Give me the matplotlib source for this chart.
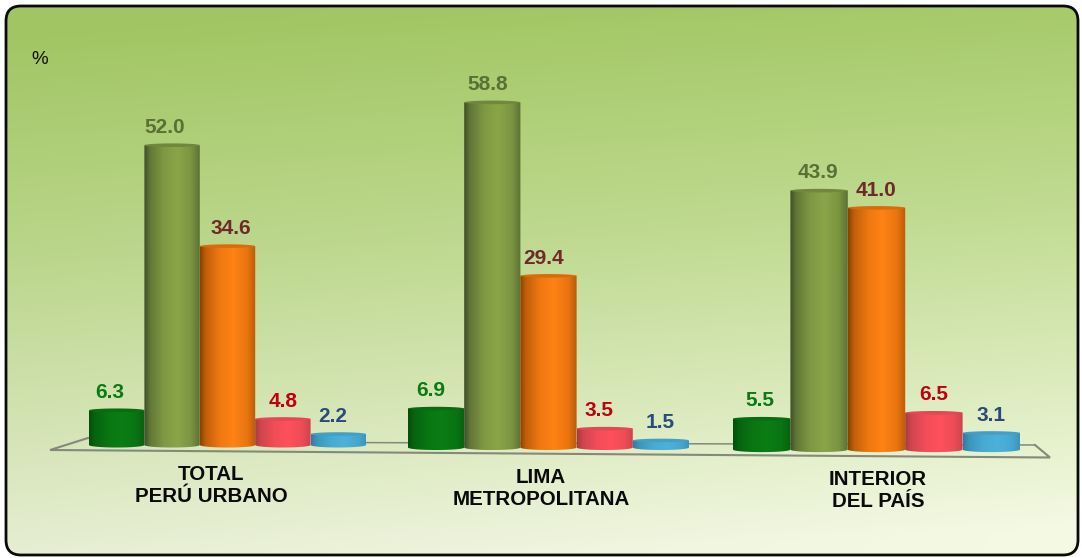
import numpy as np
import matplotlib
matplotlib.use('Agg')
import matplotlib.pyplot as plt
from matplotlib.colors import to_rgb
from matplotlib.patches import FancyBboxPatch, PathPatch
from matplotlib.path import Path

plt.rcParams['font.family'] = ['Liberation Sans', 'DejaVu Sans']

categorias = ['TOTAL\nPERÚ URBANO', 'LIMA\nMETROPOLITANA', 'INTERIOR\nDEL PAÍS']
serie_1 = [6.3, 6.9, 5.5]
serie_2 = [52.0, 58.8, 43.9]
serie_3 = [34.6, 29.4, 41.0]
serie_4 = [4.8, 3.5, 6.5]
serie_5 = [2.2, 1.5, 3.1]
series = [serie_1, serie_2, serie_3, serie_4, serie_5]

# oscuro, claro, color de etiqueta
colores = [('#03500c', '#0a7d14', '#0a7a14'),
           ('#3f5028', '#8aa548', '#5a7034'),
           ('#8f4200', '#ff8214', '#6e2a2a'),
           ('#a83c44', '#ff505c', '#c00010'),
           ('#2f7ea0', '#4cb2da', '#2a4a7c')]

W, H = 1082, 558
# cada grupo tiene su propia escala por la perspectiva del original
escalas_px = [5.80, 5.90, 5.94]
bases_px = [445.0, 447.5, 449.6]
izq_px = [89, 408, 733]
ancho_px = [55.4, 56.2, 57.4]
# ajuste horizontal de las etiquetas respecto al centro de cada barra
dx_etiquetas = [[-7, -7, 3, 0, -6], [-5, -5, -5, -6, -1], [-2, -1, 0, 0, 0]]
RY = 1.8

fig = plt.figure(figsize=(W / 100, H / 100), dpi=100)
fondo = fig.add_axes([0, 0, 1, 1])
fondo.set_axis_off()

# degradado del fondo, mas oscuro arriba a la izquierda
yy, xx = np.mgrid[0:1:80j, 0:1:120j]
arriba = np.array(to_rgb('#a2c663'))
medio = np.array(to_rgb('#bdd88e'))
abajo = np.array(to_rgb('#eef3dd'))
t = np.clip(yy + 0.10 * (xx - 0.5), 0, 1)[..., None]
img = np.where(t < 0.42, arriba + (medio - arriba) * t / 0.42,
               medio + (abajo - medio) * (t - 0.42) / 0.58)
img = np.clip(img + 0.03 * (xx[..., None] - 0.3) * (yy[..., None] + 0.3), 0, 1)
im = fondo.imshow(img, extent=(0, W, H, 0), aspect='auto', zorder=1, interpolation='bilinear')
marco = FancyBboxPatch((6, 6), 1072, 549, boxstyle='round,pad=0,rounding_size=15',
                       fc='none', ec='#0a0a0a', lw=2.0, zorder=5)
fondo.add_patch(marco)
im.set_clip_path(marco)

# piso
fondo.plot([88, 50, 1050, 1035], [438, 450, 457.5, 445], color='#85887a', lw=1.5, zorder=2,
           solid_joinstyle='miter')
fondo.plot([340, 1035], [442.5, 445], color='#85887a', lw=1.1, zorder=2)
fondo.set_xlim(0, W)
fondo.set_ylim(H, 0)
fondo.text(40, 60, '%', fontsize=13.5, ha='center', va='center', color='#111111', zorder=6)


def cilindro(ax, ry, x0, ancho, valor, oscuro, claro):
    x1 = x0 + ancho
    tope = valor - ry
    u = np.array([0, 0.10, 0.35, 0.60, 0.85, 1])
    c0, c1 = np.array(to_rgb(oscuro)), np.array(to_rgb(claro))
    mezcla = np.array([0.0, 0.45, 0.85, 1.0, 0.8, 0.4])
    s = np.linspace(0, 1, 60)
    grad = np.array([c0 + (c1 - c0) * np.interp(v, u, mezcla) for v in s])[None, :, :]
    ang = np.linspace(np.pi, 2 * np.pi, 30)
    xs = (x0 + x1) / 2 + ancho / 2 * np.cos(ang)
    ys = ry * 1.4 * np.sin(ang)
    verts = [(x0, tope)] + list(zip(xs, ys)) + [(x1, tope), (x0, tope)]
    clip = PathPatch(Path(verts), transform=ax.transData, fc='none', ec='none')
    ax.add_patch(clip)
    i = ax.imshow(grad, extent=(x0, x1, -2 * ry, tope), aspect='auto', zorder=3,
                  interpolation='bilinear')
    i.set_clip_path(clip)
    # tapa
    ang = np.linspace(0, 2 * np.pi, 60)
    tapa = c0 * 0.35 + c1 * 0.65
    ax.fill((x0 + x1) / 2 + ancho / 2 * np.cos(ang), tope + ry * np.sin(ang),
            color=tapa, lw=0, zorder=4)


for g in range(len(categorias)):
    ax = fig.add_axes([0, 0, 1, 1], facecolor='none')
    ax.set_axis_off()
    px = escalas_px[g]
    ry = RY / px
    for s, valores in enumerate(series):
        x0 = izq_px[g] + s * ancho_px[g]
        oscuro, claro, col_txt = colores[s]
        cilindro(ax, ry, x0, ancho_px[g], valores[g], oscuro, claro)
        ax.text(x0 + ancho_px[g] / 2 + dx_etiquetas[g][s], valores[g] + 16 / px, f'{valores[g]:.1f}',
                fontsize=15, fontweight='bold', color=col_txt, ha='center', va='center', zorder=6)
    ax.set_xlim(0, W)
    ax.set_ylim(-(H - bases_px[g]) / px, bases_px[g] / px)

etiqueta_x = [211, 541, 878]
etiqueta_y = [486, 488.5, 490.5]
for nombre, x, y in zip(categorias, etiqueta_x, etiqueta_y):
    fondo.text(x, y, nombre, fontsize=14.8, fontweight='bold', color='#0a0a0a', ha='center',
               va='center', linespacing=1.2, zorder=6)

fig.savefig('out.png', dpi=100)
